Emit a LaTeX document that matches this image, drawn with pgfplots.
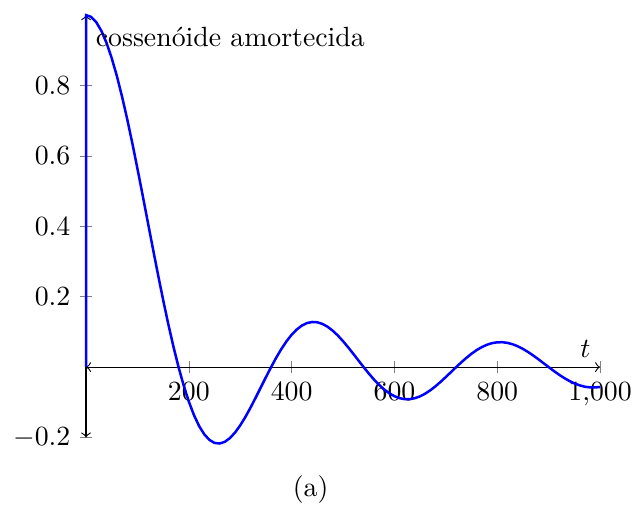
\documentclass[border=0pt]{standalone}
\usepackage{pgfplots}
\pgfplotsset{compat=1.18}
\begin{document}
\begin{tikzpicture}
\begin{axis}[
  scale only axis,
  width=185pt, height=152pt,
  axis lines=middle,
  axis line style={<->},
  xmin=0, xmax=1000,
  ymin=-0.2, ymax=1,
  xtick={200,400,600,800,1000},
  ytick={-0.2,0.2,0.4,0.6,0.8},
  xlabel={$t$},
  xlabel style={at={(axis cs:1000,0)}, anchor=south east},
  clip=false,
]
\addplot[blue, line width=0.9pt] coordinates {
(0,0) (0,1) (10,0.99493) (20,0.97982) (30,0.95493) (40,0.92073) (50,0.87782)
(60,0.82699) (70,0.76915) (80,0.70532) (90,0.63662) (100,0.56425)
(110,0.48946) (120,0.41350) (130,0.33762) (140,0.26307) (150,0.19099)
(160,0.12248) (170,0.05853) (180,0) (190,-0.05236) (200,-0.09798)
(210,-0.13642) (220,-0.16740) (230,-0.19083) (240,-0.20675) (250,-0.21536)
(260,-0.21702) (270,-0.21221) (280,-0.20152) (290,-0.18566) (300,-0.16540)
(310,-0.14158) (320,-0.11509) (330,-0.08681) (340,-0.05764) (350,-0.02843)
(360,0) (370,0.02689) (380,0.05157) (390,0.07346) (400,0.09207)
(410,0.10705) (420,0.11814) (430,0.12521) (440,0.12824) (450,0.12732)
(460,0.12266) (470,0.11455) (480,0.10338) (490,0.08957) (500,0.07366)
(510,0.05617) (520,0.03769) (530,0.01877) (540,0) (550,-0.01809)
(560,-0.03499) (570,-0.05026) (580,-0.06350) (590,-0.07439) (600,-0.08270)
(610,-0.08826) (620,-0.09101) (630,-0.09095) (640,-0.08816) (650,-0.08283)
(660,-0.07518) (670,-0.06551) (680,-0.05416) (690,-0.04152) (700,-0.02799)
(710,-0.01401) (720,0) (730,0.01363) (740,0.02648) (750,0.03820)
(760,0.04846) (770,0.05700) (780,0.06361) (790,0.06815) (800,0.07053)
(810,0.07074) (820,0.06881) (830,0.06487) (840,0.05907) (850,0.05164)
(860,0.04282) (870,0.03293) (880,0.02227) (890,0.01118) (900,0)
(910,-0.01093) (920,-0.02130) (930,-0.03080) (940,-0.03918) (950,-0.04620)
(960,-0.05169) (970,-0.05551) (980,-0.05758) (990,-0.05787) (1000,-0.05642)
};
\node[anchor=base west] at (axis cs:0,0.91) {cossenóide amortecida};
\node at ([yshift=-18.6pt]axis cs:437,-0.2) {(a)};
\end{axis}
% a little white margin above and to the left of the plot
\path ([shift={(-1.4pt,5pt)}]current bounding box.north west);
\end{tikzpicture}
\end{document}
